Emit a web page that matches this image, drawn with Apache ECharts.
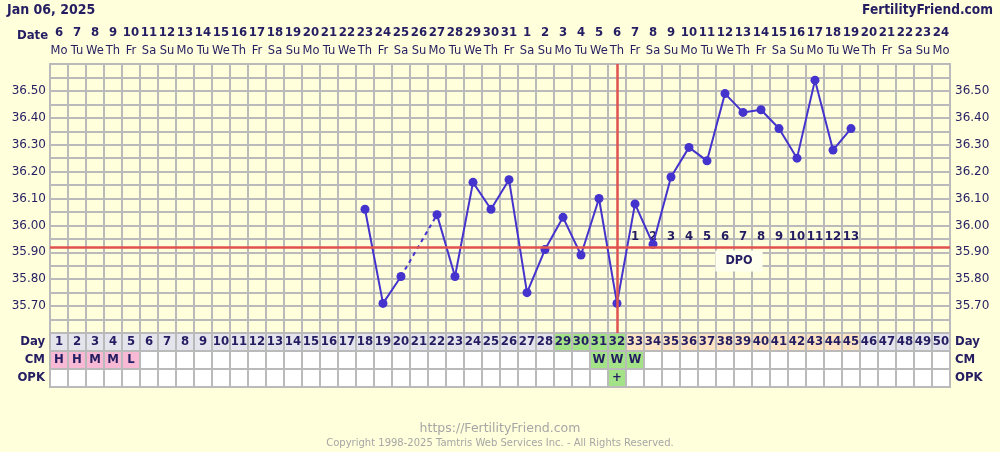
<!DOCTYPE html>
<html><head><meta charset="utf-8">
<script src="https://cdn.jsdelivr.net/npm/echarts@6/dist/echarts.min.js"></script>
<style>html,body{margin:0;padding:0;background:#ffffdc;}#c{width:1000px;height:452px;}</style>
</head><body><div id="c"></div>
<script>
// ---- data ----
const days = Array.from({length: 50}, (_, i) => String(i + 1));
const dates = ['6','7','8','9','10','11','12','13','14','15','16','17','18','19','20','21','22','23','24','25','26','27','28','29','30','31',
  '1','2','3','4','5','6','7','8','9','10','11','12','13','14','15','16','17','18','19','20','21','22','23','24'];
const weekdays = ['Mo','Tu','We','Th','Fr','Sa','Su','Mo','Tu','We','Th','Fr','Sa','Su','Mo','Tu','We','Th','Fr','Sa','Su','Mo','Tu','We','Th','Fr','Sa','Su',
  'Mo','Tu','We','Th','Fr','Sa','Su','Mo','Tu','We','Th','Fr','Sa','Su','Mo','Tu','We','Th','Fr','Sa','Su','Mo'];
const temps = [null,null,null,null,null,null,null,null,null,null,null,null,null,null,null,null,null,
  36.06,35.71,35.81,null,36.04,35.81,36.16,36.06,36.17,35.75,35.91,36.03,35.89,36.10,35.71,
  36.08,35.93,36.18,36.29,36.24,36.49,36.42,36.43,36.36,36.25,36.54,36.28,36.36,
  null,null,null,null,null];
const yTicks = ['35.70','35.80','35.90','36.00','36.10','36.20','36.30','36.40','36.50'];
const coverline = 35.92;
const ovulationDay = '32';
const fertileDays = ['29','30','31','32'];
const dpoStartDay = 33;
const dpo = [1,2,3,4,5,6,7,8,9,10,11,12,13];
const cm = ['H','H','M','M','L','','','','','','','','','','','','','','','','','','','','','','','','','','W','W','W',
  '','','','','','','','','','','','','','','','',''];
const opk = {'32': '+'};

// ---- style ----
const NAVY = '#241d62';
const GRID = '#bababa';
const RED = '#e0524f';
const LINE = '#4433cc';
const BOLD = "'DejaVu Sans Condensed', 'Liberation Sans'";
const NORM = 'DejaVu Sans';
const cmColors = {H: '#f7b9d3', M: '#f7b9d3', L: '#f7b9d3', W: '#a3e287'};
const GREEN = '#a3e287', PEACH = '#fde4c4', GRAY = '#e4e4ec';

const ROW_TOP = 333, ROW_H = 18;

// bridge for missed temperature
const bridge = temps.map(() => null);
temps.forEach((v, i) => {
  if (v == null && i > 0 && temps[i - 1] != null) {
    let j = i; while (j < temps.length && temps[j] == null) j++;
    if (j < temps.length) { bridge[i - 1] = temps[i - 1]; bridge[j] = temps[j]; }
  }
});

const dpoDays = dpo.map((n, i) => String(dpoStartDay + i));
function dayColor(d) {
  if (fertileDays.includes(d)) return GREEN;
  if (dpoDays.includes(d)) return PEACH;
  return GRAY;
}

const grids = [
  {left: 50, right: 50, top: 64, height: 269, show: true, borderColor: GRID, borderWidth: 2, backgroundColor: 'transparent'},
  {left: 50, right: 50, top: ROW_TOP, height: ROW_H, show: true, borderColor: GRID, borderWidth: 2, backgroundColor: '#ffffff'},
  {left: 50, right: 50, top: ROW_TOP + ROW_H, height: ROW_H, show: true, borderColor: GRID, borderWidth: 2, backgroundColor: '#ffffff'},
  {left: 50, right: 50, top: ROW_TOP + 2 * ROW_H, height: ROW_H, show: true, borderColor: GRID, borderWidth: 2, backgroundColor: '#ffffff'}
];

const xBase = (gi) => ({
  type: 'category', gridIndex: gi, data: days, boundaryGap: true,
  axisLine: {show: false}, axisTick: {show: false}, axisLabel: {show: false},
  splitLine: {show: true, interval: 0, lineStyle: {color: GRID, width: 2}}
});
const xAxes = [
  xBase(0),
  {type: 'category', gridIndex: 0, data: days, position: 'top', boundaryGap: true,
   axisLine: {show: false}, axisTick: {show: false}, splitLine: {show: false},
   axisLabel: {interval: 0, margin: 4, formatter: (v, i) => `{d|${dates[i]}}\n{w|${weekdays[i]}}`,
     rich: {d: {fontFamily: BOLD, fontWeight: 'bold', fontSize: 13, color: NAVY, lineHeight: 18, align: 'center'},
            w: {fontFamily: NORM, fontSize: 11.5, color: NAVY, lineHeight: 18, align: 'center'}}}},
  xBase(1), xBase(2), xBase(3)
];

const yLabel = (v) => { const s = v.toFixed(2); return yTicks.includes(s) ? s : ''; };
const rowY = (gi, name, pos) => ({
  type: 'category', gridIndex: gi, data: [name], position: pos,
  axisLine: {show: false}, axisTick: {show: false}, splitLine: {show: false},
  axisLabel: {margin: 5, fontFamily: BOLD, fontWeight: 'bold', fontSize: 13, color: NAVY}
});
const yAxes = [
  {type: 'value', gridIndex: 0, min: 35.6, max: 36.6, interval: 0.05, position: 'left',
   axisLine: {show: false}, axisTick: {show: false},
   axisLabel: {formatter: yLabel, fontFamily: NORM, fontSize: 12, color: NAVY, margin: 4},
   splitLine: {show: true, lineStyle: {color: GRID, width: 2}}},
  {type: 'value', gridIndex: 0, min: 35.6, max: 36.6, interval: 0.05, position: 'right',
   axisLine: {show: false}, axisTick: {show: false},
   axisLabel: {formatter: yLabel, fontFamily: NORM, fontSize: 12, color: NAVY, margin: 5},
   splitLine: {show: false}},
  rowY(1, 'Day', 'left'), rowY(1, 'Day', 'right'),
  rowY(2, 'CM', 'left'), rowY(2, 'CM', 'right'),
  rowY(3, 'OPK', 'left'), rowY(3, 'OPK', 'right')
];

const cellLabel = {show: true, position: 'inside', fontFamily: BOLD, fontWeight: 'bold', fontSize: 13, color: NAVY, textBorderWidth: 0};
const cellSeries = (xi, yi, data) => ({
  type: 'scatter', xAxisIndex: xi, yAxisIndex: yi, symbol: 'rect', symbolSize: [16, 16], silent: true,
  itemStyle: {opacity: 1},
  data: data, label: Object.assign({}, cellLabel, {formatter: p => p.data.text})
});

const dayCells = days.map(d => ({value: [d, 'Day'], text: d, itemStyle: {color: dayColor(d), opacity: 1}}));
const cmCells = days.map((d, i) => cm[i] ? {value: [d, 'CM'], text: cm[i], itemStyle: {color: cmColors[cm[i]], opacity: 1}} : null).filter(Boolean);
const opkCells = Object.keys(opk).map(d => ({value: [d, 'OPK'], text: opk[d], itemStyle: {color: GREEN, opacity: 1}}));

const DPO_NUM_Y = 35.958, DPO_WORD_Y = 35.868;
const series = [
  {type: 'line', xAxisIndex: 0, yAxisIndex: 0, data: bridge, connectNulls: true, symbol: 'none',
   lineStyle: {color: LINE, width: 2, type: [4, 4]}, z: 3, silent: true},
  {type: 'line', xAxisIndex: 0, yAxisIndex: 0, data: temps, connectNulls: false,
   symbol: 'circle', symbolSize: 9, itemStyle: {color: LINE}, lineStyle: {color: LINE, width: 2}, z: 4,
   markLine: {silent: true, symbol: 'none', label: {show: false},
     lineStyle: {color: RED, width: 2.5, type: 'solid'},
     data: [{yAxis: coverline}, {xAxis: ovulationDay}]}},
  {type: 'scatter', xAxisIndex: 0, yAxisIndex: 0, symbol: 'rect', symbolSize: 1, itemStyle: {color: 'transparent', opacity: 1}, z: 2, silent: true,
   data: dpo.map((n, i) => ({value: [dpoDays[i], DPO_NUM_Y], text: String(n)})),
   label: {show: true, position: 'inside', formatter: p => p.data.text, fontFamily: BOLD, fontWeight: 'bold', fontSize: 13, color: NAVY, textBorderWidth: 0}},
  {type: 'scatter', xAxisIndex: 0, yAxisIndex: 0, symbol: 'rect', symbolSize: 1, itemStyle: {color: 'transparent', opacity: 1}, z: 2, silent: true,
   data: [{value: [dpoDays[6], DPO_WORD_Y]}],
   label: {show: true, position: 'inside', formatter: 'DPO', offset: [-4, 0], fontFamily: BOLD, fontWeight: 'bold', fontSize: 12.5, color: NAVY,
     textBorderWidth: 0, backgroundColor: '#ffffee', padding: [4, 10, 4, 10]}},
  cellSeries(2, 2, dayCells),
  cellSeries(3, 4, cmCells),
  cellSeries(4, 6, opkCells)
];

const chart = echarts.init(document.getElementById('c'), null, {renderer: 'canvas'});
chart.setOption({
  backgroundColor: '#ffffdc',
  animation: false,
  grid: grids, xAxis: xAxes, yAxis: yAxes, series: series,
  graphic: [
    {type: 'text', left: 7, top: 3, style: {text: 'Jan 06, 2025', fontFamily: BOLD, fontWeight: 'bold', fontSize: 14, fill: NAVY}},
    {type: 'text', right: 7, top: 3, style: {text: 'FertilityFriend.com', fontFamily: BOLD, fontWeight: 'bold', fontSize: 13.6, fill: NAVY}},
    {type: 'text', left: 17, top: 29, style: {text: 'Date', fontFamily: BOLD, fontWeight: 'bold', fontSize: 13, fill: NAVY}},
    {type: 'text', left: 'center', top: 422, style: {text: 'https://FertilityFriend.com', fontFamily: NORM, fontSize: 12.5, fill: '#a6a6a6'}},
    {type: 'text', left: 'center', top: 438, style: {text: 'Copyright 1998-2025 Tamtris Web Services Inc. - All Rights Reserved.', fontFamily: NORM, fontSize: 10, fill: '#a6a6a6'}}
  ]
});
</script></body></html>
